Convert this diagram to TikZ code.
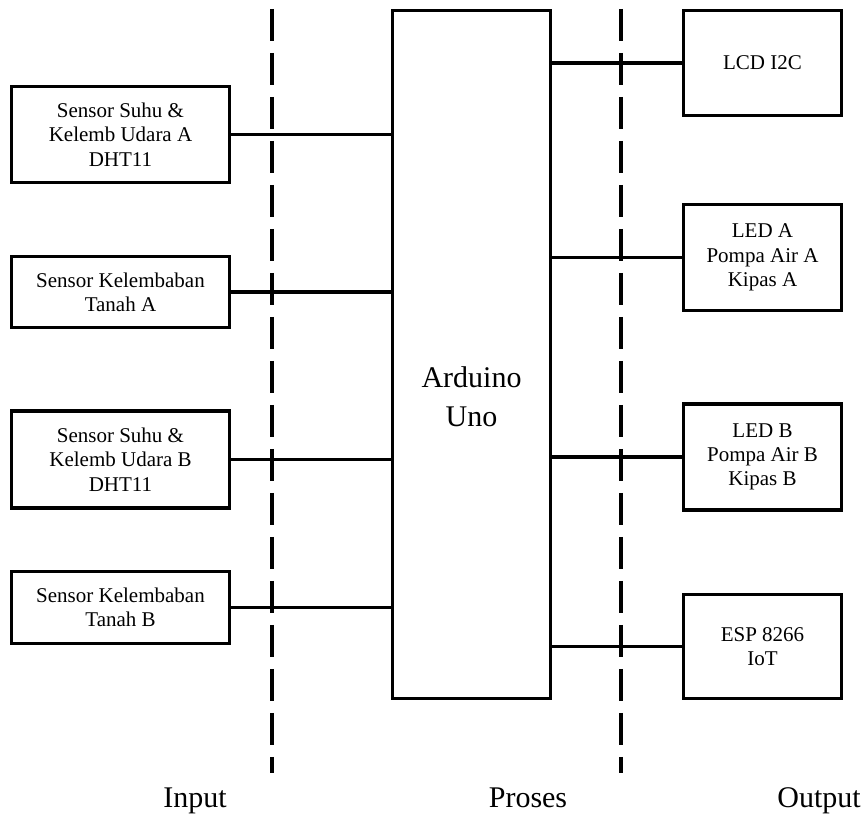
\documentclass[tikz,border=0pt]{standalone}
\usepackage{fontspec}
\setmainfont{Liberation Serif}
\tikzset{
  IN/.style={draw,line width=3.8pt,rectangle,minimum width=218pt,inner sep=0pt,align=center,font=\fontsize{21}{24.3}\selectfont},
  OUT/.style={IN,minimum width=158pt},
  MCU/.style={draw,line width=3.8pt,rectangle,minimum width=158pt,minimum height=688pt,inner sep=0pt},
  LN/.style={line width=3.2pt},
  SEP/.style={line width=4pt,dash pattern=on 32pt off 12pt},
  LBL/.style={font=\fontsize{30}{39}\selectfont,align=center,inner sep=0pt},
}

\begin{document}
\begin{tikzpicture}[x=1pt,y=1pt]
\useasboundingbox (0,0) rectangle (862,814);

% Input
\node[IN,minimum height=96pt](dhta)  at (120.5,679.5){Sensor Suhu \&\\Kelemb Udara A\\DHT11};
\node[IN,minimum height=71pt](soila) at (120.5,522.0){Sensor Kelembaban\\Tanah A};
\node[IN,minimum height=97pt](dhtb)  at (120.5,354.5){Sensor Suhu \&\\Kelemb Udara B\\DHT11};
\node[IN,minimum height=72pt](soilb) at (120.5,206.5){Sensor Kelembaban\\Tanah B};

% Proses
\node[MCU](ard) at (471.5,459.5){};
\node[LBL](ardtxt) at (471.5,417){Arduino\\Uno};

% Output
\node[OUT,minimum height=105pt](lcd)  at (762.5,751.0){LCD I2C};
\node[OUT,minimum height=106pt](leda) at (762.5,556.5){LED A\\Pompa Air A\\Kipas A};
\node[OUT,minimum height=106pt](ledb) at (762.5,357.0){LED B\\Pompa Air B\\Kipas B};
\node[OUT,minimum height=104pt](esp)  at (762.5,167.5){ESP 8266\\IoT};

% separators
\coordinate (sepatop) at (272,805);
\coordinate (sepabot) at (272,41);
\coordinate (sepbtop) at (621,805);
\coordinate (sepbbot) at (621,41);
\draw[SEP](sepatop)--(sepabot);
\draw[SEP](sepbtop)--(sepbbot);

% links
\draw[LN](dhta.east)--(dhta.east -| ard.west);
\draw[LN](soila.east)--(soila.east -| ard.west);
\draw[LN](dhtb.east)--(dhtb.east -| ard.west);
\draw[LN](soilb.east)--(soilb.east -| ard.west);
\draw[LN](lcd.west -| ard.east)--(lcd.west);
\draw[LN](leda.west -| ard.east)--(leda.west);
\draw[LN](ledb.west -| ard.east)--(ledb.west);
\draw[LN](esp.west -| ard.east)--(esp.west);

% column labels
\node[LBL,anchor=base](lblin)   at (195,7){Input};
\node[LBL,anchor=base](lblpro)  at (528,7){Proses};
\node[LBL,anchor=base](lblout)  at (819,7){Output};

\end{tikzpicture}
\end{document}
